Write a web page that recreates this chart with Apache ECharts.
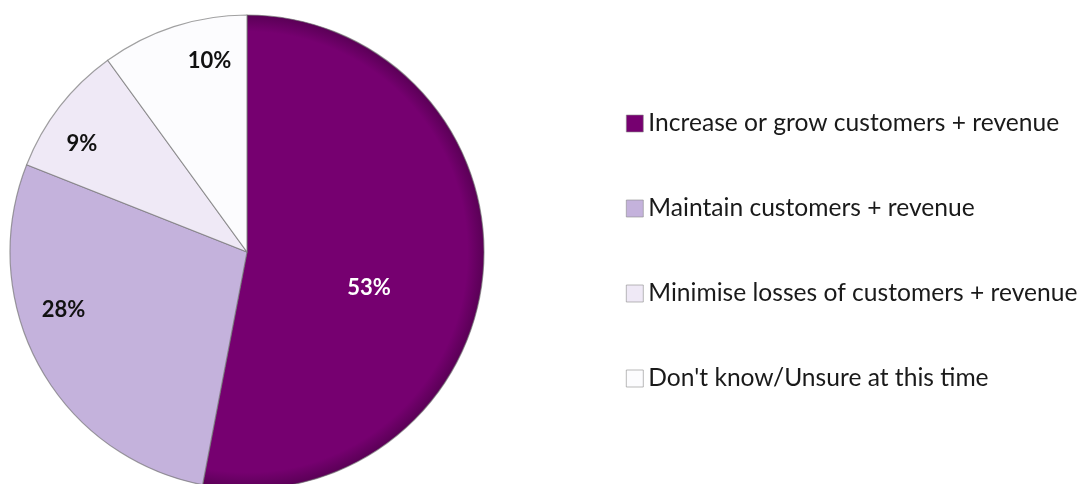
<!DOCTYPE html>
<html>
<head>
<meta charset="utf-8">
<script src="https://cdn.jsdelivr.net/npm/echarts@6/dist/echarts.min.js"></script>
<style>
  html, body { margin: 0; padding: 0; background: #ffffff; }
  #chart { width: 1080px; height: 484px; }
</style>
</head>
<body>
<div id="chart"></div>
<script>
// Share of respondents by expected outcome
const categories = [
  'Increase or grow customers + revenue',
  'Maintain customers + revenue',
  'Minimise losses of customers + revenue',
  "Don't know/Unsure at this time"
];
const shares = [53, 28, 9, 10];
const sliceColors = ['#760070', '#c4b2dc', '#efe9f6', '#fcfcfe'];
const labelColors = ['#ffffff', '#111111', '#111111', '#111111'];

const CX = 247, CY = 252, R = 237;
// nudges from the default mid-radius label spot
const labelShift = [[1, 24], [-77, -1], [-69, -34], [0, -76]];

// dark slice gets a slightly deeper rim
const rimFill = (base, rim) => ({
  type: 'radial', x: CX, y: CY, r: R, global: true,
  colorStops: [
    { offset: 0, color: base },
    { offset: 0.93, color: base },
    { offset: 1, color: rim }
  ]
});

const chart = echarts.init(document.getElementById('chart'));

chart.setOption({
  backgroundColor: '#ffffff',
  animation: false,
  legend: {
    orient: 'vertical',
    left: 621,
    top: 106,
    itemWidth: 17,
    itemHeight: 17,
    itemGap: 60,
    icon: 'rect',
    selectedMode: false,
    textStyle: {
      fontFamily: 'Lato',
      fontSize: 24.6,
      lineHeight: 25,
      color: '#1a1a1a'
    },
    data: categories.map((c, i) => ({
      name: c,
      itemStyle: { color: sliceColors[i], borderColor: '#8c8c8c', borderWidth: 0.6 }
    }))
  },
  series: [{
    type: 'pie',
    center: [CX, CY],
    radius: R,
    startAngle: 90,
    clockwise: true,
    avoidLabelOverlap: false,
    itemStyle: {
      borderColor: 'rgba(110,110,110,0.65)',
      borderWidth: 1.2
    },
    label: {
      show: true,
      position: 'inside',
      fontFamily: 'Lato',
      fontWeight: 'bold',
      fontSize: 22,
      formatter: p => p.value + '%'
    },
    labelLine: { show: false },
    labelLayout: function (params) {
      const s = labelShift[params.dataIndex];
      return { dx: s[0], dy: s[1] };
    },
    data: categories.map((c, i) => ({
      name: c,
      value: shares[i],
      itemStyle: { color: i === 0 ? rimFill('#760070', '#5a0056') : sliceColors[i] },
      label: { color: labelColors[i] }
    }))
  }]
});
</script>
</body>
</html>
